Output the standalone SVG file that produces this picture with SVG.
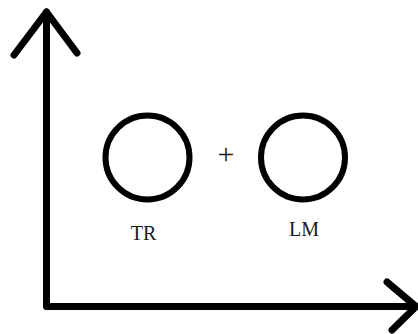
<svg xmlns="http://www.w3.org/2000/svg" width="418" height="334" viewBox="0 0 418 334">
<style>
.ax{fill:none;stroke:#000;stroke-width:7;stroke-linecap:round;stroke-linejoin:round}
.node{fill:none;stroke:#000;stroke-width:6}
.lbl{font-family:"Liberation Serif",serif;font-size:20px;fill:#1a1a1a;text-anchor:middle}
</style>
<rect width="418" height="334" fill="#fff"/>
<g id="connectors">
<path class="ax" d="M46.5,12 V306.5 H416"/>
<path class="ax" d="M14,55 L46.5,12 L77,53"/>
<path class="ax" d="M387,282 L416,306.5 L392,330"/>
</g>
<g id="TR">
<circle class="node" cx="147.5" cy="157.5" r="42"/>
<text class="lbl" x="143.5" y="240">TR</text>
</g>
<g id="plus">
<text class="lbl" x="226" y="164" style="font-size:30px">+</text>
</g>
<g id="LM">
<circle class="node" cx="303" cy="157.5" r="42"/>
<text class="lbl" x="304" y="236">LM</text>
</g>
</svg>
